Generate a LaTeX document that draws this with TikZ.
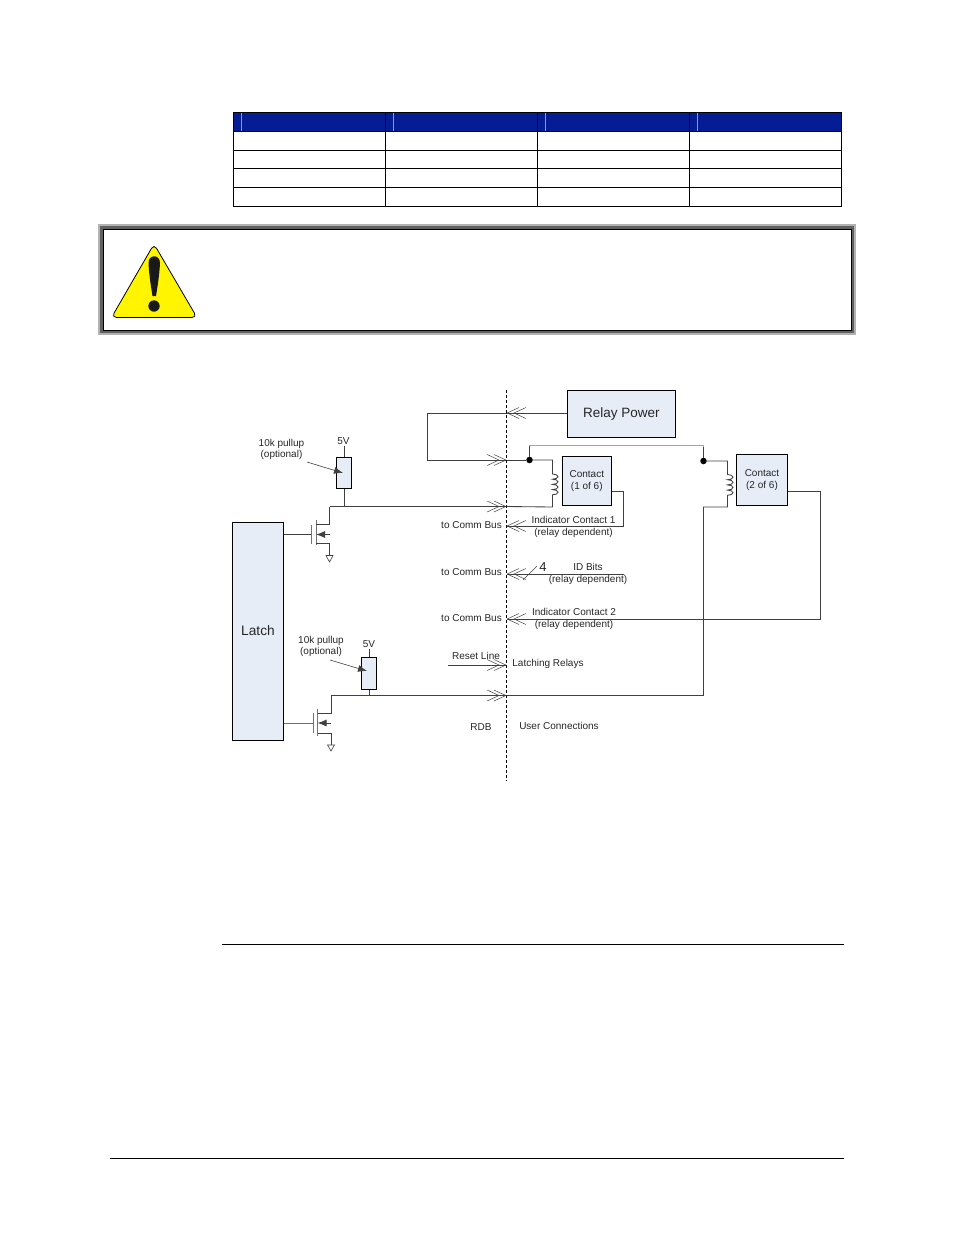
\documentclass[tikz,border=0pt]{standalone}
\usepackage{fontspec}
\setmainfont{Liberation Sans}
\usetikzlibrary{arrows.meta}
\definecolor{boxblue}{HTML}{E6EDF7}
\definecolor{headblue}{HTML}{041C94}
\definecolor{wire}{HTML}{404040}
\definecolor{warnyellow}{HTML}{FFF500}
\tikzset{
  wireline/.style={wire, line width=0.85pt},
  bus/.style={wireline, -{Straight Barb[length=12pt,width=11pt,sep=-6pt,line width=0.5pt]Straight Barb[length=12pt,width=11pt,line width=0.5pt]}},
  bluebox/.style={draw=black, fill=boxblue, line width=1pt, inner sep=0pt, align=center},
  lbl/.style={inner sep=0pt, align=center, text=black!85, font=\fontsize{10}{11.7}\selectfont},
  gnd/.style={wire, line width=0.6pt},
  rowline/.style={black, line width=1pt},
  dot/.style={circle, fill=black, inner sep=0pt, minimum size=6.5pt},
  tipfill/.style={-{Latex[length=9pt,width=7pt]}}
}
\begin{document}
\begin{tikzpicture}[x=1pt, y=-1pt]
  \useasboundingbox (0,0) rectangle (954,1235);
  % table
  \fill[headblue] (233.5,112) rectangle (841.5,131.5);
  \foreach \x in {241.3,393,545,697} \draw[blue!45!white, line width=0.5pt] (\x,113) -- (\x,131);
  \foreach \y in {131.5,150.5,168.5,187.5} \draw[rowline] (233.5,\y) -- (841.5,\y);
  \foreach \x in {385.5,537.5,689.5} \draw[rowline] (\x,112) -- (\x,206);
  \draw[rowline] (233.5,112) rectangle (841.5,206);
  % warning box
  \fill[black!30] (98,224) rectangle (856,335);
  \fill[black!62] (100,226) rectangle (854,333);
  \draw[fill=white, draw=black, line width=1pt] (103.5,229.5) rectangle (851,330.5);
  \draw[fill=warnyellow, draw=black, line width=0.8pt, rounded corners=5pt] (154,244) -- (197,317.5) -- (111.5,317.5) -- cycle;
  \fill[black!90] (148.5,263) .. controls (148.5,254) and (160,254) .. (160,263) .. controls (159.5,275) and (157,290) .. (156,296) -- (152.5,296) .. controls (151.5,290) and (149,275) .. (148.5,263) -- cycle;
  \fill[black!90] (154,306) circle (5.7pt);
  % boundary
  \draw[black, line width=0.9pt, dash pattern=on 3pt off 2pt] (506.5,390) -- (506.5,781);
  % boxes
  \node[bluebox, minimum width=108pt, minimum height=47pt, text=black!85, font=\fontsize{13.5}{15}\selectfont] (relaypower) at (621.5,414) {Relay Power};
  \node[bluebox, minimum width=51pt, minimum height=218.5pt, text=black!85, font=\fontsize{13.7}{15}\selectfont] (latch) at (258,631.5) {\raisebox{1pt}{Latch}};
  \node[bluebox, minimum width=49.5pt, minimum height=49pt, text=black!85, font=\fontsize{10}{11.7}\selectfont] (contact1) at (586.8,481) {Contact\\(1 of 6)};
  \node[bluebox, minimum width=51pt, minimum height=51pt, text=black!85, font=\fontsize{10}{11.7}\selectfont] (contact2) at (762,480) {Contact\\(2 of 6)};
  \node[bluebox, minimum width=14.5pt, minimum height=31pt] (r1) at (344.2,472.5) {};
  \node[bluebox, minimum width=15pt, minimum height=32pt] (r2) at (369,673.5) {};
  % points on the boundary
  \coordinate (pwrin) at (506.5,413);
  \coordinate (pwrout) at (506.5,460);
  \coordinate (drain1) at (506.5,506.5);
  \coordinate (drain2) at (506.5,695.5);
  \coordinate (ind1) at (506.5,526);
  \coordinate (idbits) at (506.5,574);
  \coordinate (ind2) at (506.5,619);
  \coordinate (reset) at (506.5,665);
  \coordinate (resetfrom) at (448,665);
  \node[dot] (dot1) at (529.5,460) {};
  \node[dot] (dot2) at (703.5,461) {};
  % relay power wiring
  \draw[bus] (relaypower.west |- pwrin) -- (pwrin);
  \draw[bus] (pwrin) -- (427.5,413) -- (427.5,460) -- (pwrout);
  \draw[wireline] (pwrout) -- (dot1);
  \draw[wireline, black!35, line width=1pt] (dot1) -- (529.5,445) -- (703.5,445) -- (dot2);
  \draw[wire, line width=0.9pt] (dot1) -- ++(0,-14);
  \draw[wire, line width=0.9pt] (dot2) -- ++(0,-14);
  % coils
  \draw[wireline] (dot1) -- (552.5,460) -- (552.5,474) \foreach \i in {1,2,3,4} {arc[start angle=90,end angle=-90,x radius=5.5pt,y radius=2.6pt]} -- (552.5,507) -- (drain1);
  \draw[wireline] (dot2) -- (727.5,461) -- (727.5,474.5) \foreach \i in {1,2,3,4} {arc[start angle=90,end angle=-90,x radius=5.5pt,y radius=2.6pt]} -- (727.5,507) -- (703.5,507) -- (703.5,695.5) -- (drain2);
  % contact outputs
  \draw[bus] (contact1.east |- 0,491) -- (623.5,491) -- (623.5,526) -- (ind1);
  \draw[bus] (contact2.east |- 0,491) -- (820.5,491) -- (820.5,619) -- (ind2);
  \draw[bus] (624,574) -- (idbits);
  \draw[wireline, line width=0.6pt] (523,580) -- (537,566);
  \draw[bus] (resetfrom) -- (reset);
  % top fet
  \draw[wireline] (r1.north) -- (344.2,446);
  \draw[wireline] (r1.south) -- (344.2,506.5);
  \draw[bus] (329.5,506.5) -- (drain1);
  \draw[wireline] (latch.east |- 0,534.5) -- (311,534.5);
  \draw[black!55, line width=1pt] (311,525) -- (311,544);
  \draw[black!55, line width=1pt] (316,520) -- (316,545);
  \draw[wireline] (316,524.5) -- (329.5,524.5) -- (329.5,506.5);
  \draw[wireline] (316,543) -- (329.5,543) -- (329.5,555);
  \draw[wireline, tipfill] (329.5,534.5) -- (316,534.5);
  \draw[gnd] (326,555.5) -- (333,555.5) -- (329.5,562) -- cycle;
  % bottom fet
  \draw[wireline] (r2.north) -- (369,649);
  \draw[wireline] (r2.south) -- (369,695.5);
  \draw[bus] (331,695.5) -- (drain2);
  \draw[wireline] (drain2) -- (703.5,695.5);
  \draw[wireline, black!55] (latch.east |- 0,723.5) -- (313.5,723.5);
  \draw[black!55, line width=1pt] (313.5,713) -- (313.5,733);
  \draw[black!55, line width=1pt] (317.5,709) -- (317.5,736);
  \draw[wireline] (317.5,713.5) -- (331,713.5) -- (331,695.5);
  \draw[wireline] (317.5,733) -- (331,733) -- (331,744.5);
  \draw[wireline, tipfill] (331,723) -- (317.5,723);
  \draw[gnd] (327.5,745) -- (334.5,745) -- (331,751) -- cycle;
  % pullup pointers
  \draw[wire, line width=0.6pt, tipfill] (307,462) -- (343,473);
  \draw[wire, line width=0.6pt, tipfill] (330,660) -- (367,671);
  % labels
  \node[lbl] (vcc1) at (343.5,441) {5V};
  \node[lbl] (vcc2) at (369,644) {5V};
  \node[lbl] (pull1) at (281.5,449.5) {10k pullup\\(optional)};
  \node[lbl] (pull2) at (321,646.5) {10k pullup\\(optional)};
  \node[lbl, anchor=east] (bus1) at (502,525.5) {to Comm Bus};
  \node[lbl, anchor=east] (bus2) at (502,572.5) {to Comm Bus};
  \node[lbl, anchor=east] (bus3) at (502,618.5) {to Comm Bus};
  \node[lbl] (indtext1) at (573.5,526.6) {Indicator Contact 1\\(relay dependent)};
  \node[lbl] (idtext) at (588,574.1) {ID Bits\\(relay dependent)};
  \node[lbl, font=\fontsize{13}{15}\selectfont] (four) at (543,567) {4};
  \node[lbl] (indtext2) at (574,619.1) {Indicator Contact 2\\(relay dependent)};
  \node[lbl] (resettext) at (476,655.5) {Reset Line};
  \node[lbl] (latching) at (548,663.5) {Latching Relays};
  \node[lbl] (rdb) at (481,727) {RDB};
  \node[lbl] (user) at (559,726) {User Connections};
  % page rules
  \draw[black, line width=0.8pt] (222,944.5) -- (844,944.5);
  \draw[black, line width=0.8pt] (110,1158.5) -- (844,1158.5);
\end{tikzpicture}
\end{document}
